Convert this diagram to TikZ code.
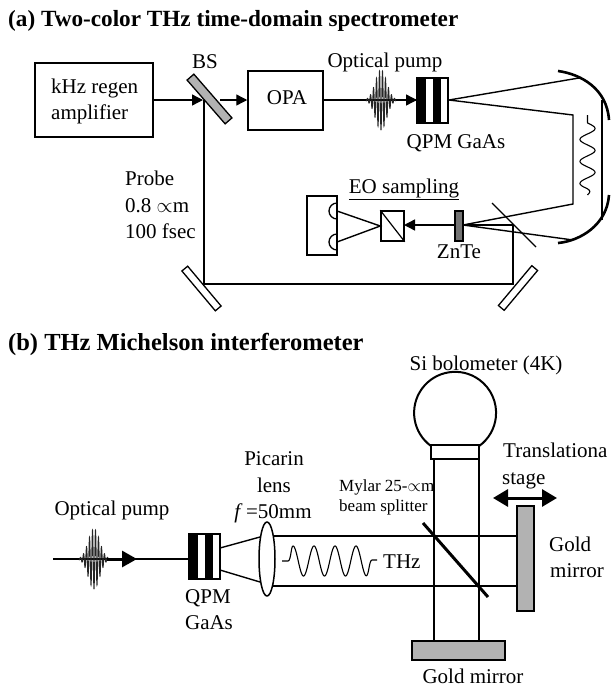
\documentclass[tikz,border=0pt]{standalone}
\usepackage{fontspec}
\setmainfont{Liberation Serif}
\usetikzlibrary{arrows.meta}
\tikzset{
  lbl/.style={anchor=base,inner sep=0pt,font=\fontsize{21}{24}\selectfont},
  lblw/.style={lbl,anchor=base west},
  ttl/.style={anchor=base west,inner sep=0pt,font=\fontsize{#1}{26}\selectfont\bfseries},
  smalllbl/.style={anchor=base west,inner sep=0pt,font=\fontsize{17}{19}\selectfont},
  box/.style={draw=black,line width=1.5pt,inner sep=0pt},
  mirror/.style={draw=black,line width=1.3pt,fill=white,inner sep=0pt},
  gmirror/.style={mirror,fill=black!30},
  beam/.style={line width=1.4pt},
  tbeam/.style={line width=2pt},
  arr/.style={beam,-{Triangle[length=11pt,width=11pt]}},
}
\newcommand{\pulse}[2]{\draw[line width=0.9pt,black!85] plot[domain=-15:15,samples=400] ({#1+\x},{#2+30*exp(-(\x/8)*(\x/8))*cos(\x*120)});}
\newcommand{\qpm}[2]{% x, y top
  \fill[white] (#1,#2) rectangle ++(31,45);
  \fill[black] (#1,#2) rectangle ++(9,45);
  \fill[black] (#1+15.5,#2) rectangle ++(8.5,45);
  \draw[line width=1.2pt] (#1,#2) rectangle ++(31,45);}
\begin{document}
\begin{tikzpicture}[x=1pt,y=-1pt]
  \useasboundingbox (0,0) rectangle (611,689);
  % Parte (a)
  \node[ttl=23.2] (tita) at (8,26) {(a) Two-color THz time-domain spectrometer};
  \node[box,minimum width=118pt,minimum height=74pt] (amp) at (94,100) {};
  \node[lblw] (amptxt) at (51,93) {kHz regen};
  \node[lblw] (amptxtb) at (51,119) {amplifier};
  \node[box,minimum width=75pt,minimum height=59pt] (opa) at (285.5,100.5) {};
  \node[lbl] (opatxt) at (287,104) {OPA};
  \node[lbl] (bstxt) at (205,68) {BS};
  \node[lblw] (probe) at (125,185) {Probe};
  \node[lblw] (probeb) at (125,212) {0.8 $\propto$m};
  \node[lblw] (probec) at (125,238) {100 fsec};
  \node[lbl] (pumpa) at (385,67) {Optical pump};
  \node[lbl] (qpma) at (456,148) {QPM GaAs};
  \node[lbl] (eotxt) at (404,193) {\underline{EO sampling}};
  \node[lbl] (zntetxt) at (459,258) {ZnTe};
  % Haces
  \coordinate (bsin) at (203,100);
  \coordinate (bsout) at (220,100);
  \coordinate (qpmin) at (417,100);
  \coordinate (qpmout) at (449,100);
  \coordinate (cornerbl) at (204,284);
  \coordinate (cornerbr) at (513,284);
  \coordinate (probeend) at (513,225);
  \coordinate (fold) at (573,115);
  \coordinate (foldb) at (573,204);
  \coordinate (focus) at (463,225);
  \coordinate (mtop) at (579,78);
  \coordinate (mbot) at (573,240);
  \draw[arr] (amp.east |- bsin) -- (bsin);
  \draw[arr] (bsout) -- (opa.west |- bsout);
  \draw[beam] (opa.east |- qpmin) -- (qpmin);
  \draw[arr] (370,100) -- (qpmin);
  \draw[beam] (204,100) -- (cornerbl) -- (cornerbr) -- (probeend) -- (focus);
  \draw[beam] (mtop) -- (qpmout) -- (fold) -- (foldb) -- (focus) -- (mbot);
  \pulse{381}{100}
  \qpm{417}{78}
  % Espejos
  \node[gmirror,rotate=-49,minimum width=58pt,minimum height=9pt] (bs) at (209.5,99) {};
  \node[mirror,rotate=-50,minimum width=52pt,minimum height=7.5pt] (mbl) at (201.5,288.5) {};
  \node[mirror,rotate=50,minimum width=52pt,minimum height=7.5pt] (mbr) at (518,288) {};
  % Espejo curvo
  \draw[line width=2.6pt] (558,71) .. controls (580,74) and (607,88) .. (609,120);
  \draw[line width=2.6pt] (609,195) .. controls (607,225) and (580,241) .. (558,243);
  \draw[line width=1.3pt] (602,100) -- (602,220);
  \draw[line width=1.1pt] plot[domain=0:80,samples=120,smooth] ({587.5+7.5*sin(16.4*max(\x-8,0))*min(1,\x/8)*min(1,(80-\x)/8)},{115+\x});
  \draw[line width=1.1pt] (492,203) -- (536,247);
  % Muestreo EO
  \draw[arr] (focus) -- (404,225);
  \node[draw=black,line width=1.3pt,fill=black!55,minimum width=8pt,minimum height=30pt,inner sep=0pt] (znte) at (459,226) {};
  \node[box,fill=white,minimum width=23pt,minimum height=30pt] (pol) at (392.5,226) {};
  \draw[line width=1.2pt] (pol.north west) -- (pol.south east);
  \node[box,minimum width=30pt,minimum height=59pt] (det) at (322,225.5) {};
  \coordinate (deta) at (337,211);
  \coordinate (detb) at (337,242);
  \draw[line width=1.3pt] (337,203) arc[start angle=-90,end angle=-270,radius=8];
  \draw[line width=1.3pt] (337,234) arc[start angle=-90,end angle=-270,radius=8];
  \draw[beam] (deta) -- (pol.west) -- (detb);
  % Parte (b)
  \node[ttl=24.5] (titb) at (8,350) {(b) THz Michelson interferometer};
  \node[lbl] (pumpb) at (112,515) {Optical pump};
  \node[lbl] (pica) at (274,465) {Picarin};
  \node[lbl] (picb) at (274,492) {lens};
  \node[lbl] (picc) at (273,518) {\textit{f}\,=50mm};
  \node[lbl] (qpmb) at (208,603) {QPM};
  \node[lbl] (gaas) at (209,629) {GaAs};
  \node[lbl] (sibol) at (486,370) {Si bolometer (4K)};
  \node[lblw] (trans) at (503,457) {Translationa};
  \node[lblw] (stage) at (502,484) {stage};
  \node[smalllbl] (mylar) at (339,491) {Mylar 25-$\propto$m};
  \node[smalllbl] (split) at (339,511) {beam splitter};
  \node[lblw] (thz) at (383,568) {THz};
  \node[lblw] (golda) at (549,551) {Gold};
  \node[lblw] (goldb) at (550,577) {mirror};
  \node[lbl] (goldc) at (473,683) {Gold mirror};
  % Haz de bombeo
  \coordinate (pumpst) at (53,559);
  \coordinate (qpmbin) at (189,559);
  \draw[line width=1.2pt] (pumpst) -- (qpmbin);
  \pulse{94}{559}
  \draw[line width=3pt,-{Triangle[length=15pt,width=16pt]}] (107,559) -- (137,559);
  \qpm{189}{534}
  \draw[beam] (220,548) -- (260,537);
  \draw[beam] (220,570) -- (260,582);
  \draw[tbeam] (267,535.5) -- (517,535.5);
  \draw[tbeam] (267,586) -- (517,586);
  \draw[line width=1.5pt,fill=white] (267,559) ellipse[x radius=8,y radius=37];
  % Onda THz
  \draw[line width=1.1pt] (282,561) -- (288,561) .. controls (291,561) and (291,546) .. (293,546);
  \draw[line width=1.1pt] plot[domain=0:73,samples=150,smooth] ({293+\x},{561-15*cos(\x*17.143)});
  \draw[line width=1.1pt] (366,576) .. controls (369,576) and (369,560) .. (372,560) -- (377,560);
  % Interferometro
  \draw[tbeam] (434,460) -- (434,641);
  \draw[tbeam] (479,460) -- (479,641);
  \draw[line width=2pt] (431,446) arc[start angle=126,end angle=414,radius=41];
  \node[draw=black,line width=2pt,fill=white,minimum width=48pt,minimum height=14pt,inner sep=0pt] (win) at (455,452) {};
  \draw[line width=3pt] (423,523) -- (488,597);
  \node[gmirror,line width=1.6pt,minimum width=17pt,minimum height=105pt] (gmr) at (525.5,558.5) {};
  \node[gmirror,line width=1.6pt,minimum width=93pt,minimum height=19pt] (gmb) at (458.5,650.5) {};
  \draw[line width=3pt,{Triangle[length=15pt,width=17pt]}-{Triangle[length=15pt,width=17pt]}] (493,498) -- (557,498);
\end{tikzpicture}
\end{document}
